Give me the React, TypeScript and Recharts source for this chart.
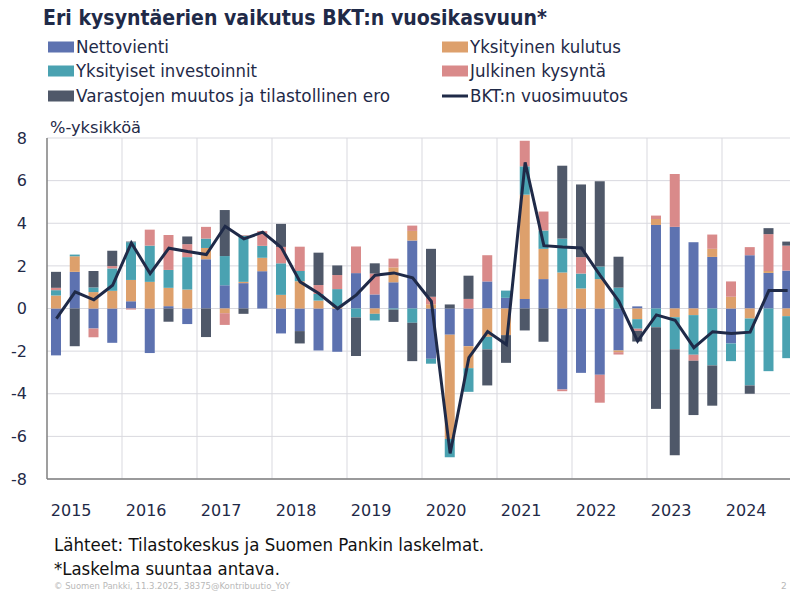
import React from "react"
import { Bar, CartesianGrid, ComposedChart, Line, XAxis, YAxis } from "recharts"

const quarters = [
  "2015Q1", "2015Q2", "2015Q3", "2015Q4", "2016Q1", "2016Q2", "2016Q3", "2016Q4",
  "2017Q1", "2017Q2", "2017Q3", "2017Q4", "2018Q1", "2018Q2", "2018Q3", "2018Q4",
  "2019Q1", "2019Q2", "2019Q3", "2019Q4", "2020Q1", "2020Q2", "2020Q3", "2020Q4",
  "2021Q1", "2021Q2", "2021Q3", "2021Q4", "2022Q1", "2022Q2", "2022Q3", "2022Q4",
  "2023Q1", "2023Q2", "2023Q3", "2023Q4", "2024Q1", "2024Q2", "2024Q3", "2024Q4",
]

const nettovienti = [
  -2.2, 1.72, -0.94, -1.61, 0.34, -2.09, 0.11, -0.73, 2.31, 1.09, 1.19, 1.75, -1.17, -1.06, -1.97, -2.03,
  1.66, 0.66, 1.23, 3.19, -2.36, -1.23, -1.77, 1.27, 0.5, 0.45, 1.38, -3.8, -3.02, -3.11, -1.97, 0.1,
  3.92, 3.83, 3.11, 2.42, -1.64, 2.5, 1.67, 1.78,
]
const kulutus = [
  0.61, 0.73, 0.77, 0.83, 1.0, 1.25, 0.86, 0.89, 0.53, -0.22, 0.06, 0.63, 0.64, 1.28, 0.37, 0.08,
  0, -0.25, 0.7, 0.45, 0.2, -4.89, -1.03, -1.33, -1.25, 4.89, 1.42, 1.69, 0.94, 1.38, -0.08, -0.5,
  0.28, -0.41, -0.31, 0.38, 0.55, -0.47, 0.09, -0.36,
]
const investoinnit = [
  0.25, 0.08, 0.22, 1.05, 1.77, 1.7, 0.84, 1.52, 0.44, 1.37, 2.17, 0.56, 1.48, 0.48, 0.31, 0.83,
  -0.42, -0.31, -0.05, -0.67, -0.23, -0.86, -1.11, -0.59, 0.34, 1.33, 0.86, 1.59, 0.7, 0.59, 0.98, -0.45,
  -0.88, -1.5, -1.86, -2.67, -0.83, -3.14, -2.94, -1.97,
]
const julkinen = [
  0.11, 0, -0.41, 0.11, -0.05, 0.75, 1.64, 0.61, 0.55, -0.55, 0.03, 0.69, 0.77, 1.14, 0.42, 0.66,
  1.25, 0.98, 0.41, 0.25, 0.35, 0, 0.45, 1.23, 0, 1.2, 0.89, -0.08, 0.77, -1.31, -0.11, -0.1,
  0.16, 2.48, -0.28, 0.67, 0.72, 0.38, 1.73, 1.17,
]
const varastot = [
  0.75, -1.77, 0.77, 0.72, 0.03, 0, -0.62, 0.36, -1.34, 2.16, -0.25, 0, 1.08, -0.58, 1.52, 0.45,
  -1.81, 0.48, -0.58, -1.8, 2.25, 0.19, 1.09, -1.69, -1.3, -1.03, -1.56, 3.42, 3.41, 4.0, 1.45, -0.5,
  -3.83, -4.97, -2.55, -1.89, 0, -0.39, 0.28, 0.19,
]
const bkt = [
  -0.47, 0.78, 0.41, 1.09, 3.08, 1.64, 2.83, 2.67, 2.53, 3.86, 3.27, 3.58, 2.86, 1.25, 0.7, 0.0,
  0.64, 1.56, 1.67, 1.44, 0.33, -6.8, -2.31, -1.08, -1.69, 6.86, 2.95, 2.88, 2.84, 1.55, 0.34, -1.53,
  -0.3, -0.55, -1.84, -1.09, -1.17, -1.11, 0.84, 0.84,
]

const yTicks = [-8, -6, -4, -2, 0, 2, 4, 6, 8]

const FONT = "'DejaVu Sans', sans-serif"
const NAVY = "#1f2a48"

const series = [
  { key: "nettovienti", name: "Nettovienti", color: "#5d72b0" },
  { key: "kulutus", name: "Yksityinen kulutus", color: "#dda06c" },
  { key: "investoinnit", name: "Yksityiset investoinnit", color: "#4aa2b1" },
  { key: "julkinen", name: "Julkinen kysyntä", color: "#d98a8a" },
  { key: "varastot", name: "Varastojen muutos ja tilastollinen ero", color: "#4f5869" },
]

const data = quarters.map((q, i) => ({
  q,
  nettovienti: nettovienti[i],
  kulutus: kulutus[i],
  investoinnit: investoinnit[i],
  julkinen: julkinen[i],
  varastot: varastot[i],
  bkt: bkt[i],
}))

// legend layout: [item, column x, row centre y, text width]
const legendItems: any[] = [
  [series[0], 48, 47, 93],
  [series[1], 442, 47, 151],
  [series[2], 48, 71, 181],
  [series[3], 442, 71, 136],
  [series[4], 48, 96, 314],
  [{ key: "bkt", name: "BKT:n vuosimuutos", color: NAVY, line: true }, 442, 96, 158],
]

function YearTick(props: any) {
  const { x, y, payload } = props
  const label = String(payload.value)
  if (!label.endsWith("Q2")) return null
  return (
    <text x={x - 4} y={y + 29} textAnchor="middle" fill={NAVY} fontSize={16} fontFamily={FONT}>
      {label.slice(0, 4)}
    </text>
  )
}

function Overlay() {
  return (
    <svg
      width={790}
      height={591}
      style={{ position: "absolute", top: 0, left: 0, pointerEvents: "none" }}
      fontFamily={FONT}
    >
      <text x={43} y={25} fontSize={21} fontWeight="bold" fill={NAVY} textLength={504} lengthAdjust="spacingAndGlyphs">
        Eri kysyntäerien vaikutus BKT:n vuosikasvuun*
      </text>
      {legendItems.map(([s, x, cy, w]) => (
        <g key={s.key}>
          {s.line ? (
            <rect x={x} y={cy - 1.5} width={26} height={3} fill={s.color} />
          ) : (
            <rect x={x} y={cy - 5.5} width={26} height={11} fill={s.color} />
          )}
          <text x={x + 28} y={cy + 6} fontSize={17} fill={NAVY} textLength={w} lengthAdjust="spacingAndGlyphs">
            {s.name}
          </text>
        </g>
      ))}
      <text x={50} y={133} fontSize={16} fill={NAVY} textLength={91} lengthAdjust="spacingAndGlyphs">
        %-yksikköä
      </text>
      <text x={54} y={551} fontSize={17} fill="#111" textLength={430} lengthAdjust="spacingAndGlyphs">
        Lähteet: Tilastokeskus ja Suomen Pankin laskelmat.
      </text>
      <text x={54} y={575} fontSize={17} fill="#111" textLength={226} lengthAdjust="spacingAndGlyphs">
        *Laskelma suuntaa antava.
      </text>
      <text x={54} y={589} fontSize={9} fill="#b8b8b8" textLength={236} lengthAdjust="spacingAndGlyphs">
        © Suomen Pankki, 11.3.2025, 38375@Kontribuutio_YoY
      </text>
      <text x={781} y={589} fontSize={9} fill="#b8b8b8">
        2
      </text>
    </svg>
  )
}

export default function App() {
  return (
    <div
      style={{
        position: "absolute",
        top: 0,
        left: 0,
        width: 790,
        height: 591,
        overflow: "hidden",
        background: "#fff",
      }}
    >
      <ComposedChart
        width={797}
        height={591}
        data={data}
        stackOffset="sign"
        barSize={10}
        margin={{ top: 138, right: 0, bottom: 72, left: 0 }}
      >
        <CartesianGrid
          stroke="#d9d9df"
          verticalCoordinatesGenerator={({ offset }: any) =>
            [1, 2, 3, 4, 5, 6, 7, 8, 9].map((i) => offset.left + (i * offset.width) / 10)
          }
        />
        <XAxis
          dataKey="q"
          height={40}
          interval={0}
          tickLine={false}
          axisLine={{ stroke: "#7f7f7f", strokeWidth: 1.5 }}
          tick={<YearTick />}
        />
        <YAxis
          domain={[-8, 8]}
          ticks={yTicks}
          width={47}
          tickLine={false}
          tickSize={0}
          tickMargin={20}
          axisLine={{ stroke: "#7f7f7f", strokeWidth: 1.5 }}
          tick={{ fill: NAVY, fontSize: 16, fontFamily: FONT }}
        />
        {series.map((s) => (
          <Bar
            key={s.key}
            dataKey={s.key}
            name={s.name}
            stackId="a"
            fill={s.color}
            isAnimationActive={false}
          />
        ))}
        <Line
          type="linear"
          dataKey="bkt"
          name="BKT:n vuosimuutos"
          stroke={NAVY}
          strokeWidth={3}
          dot={false}
          isAnimationActive={false}
        />
      </ComposedChart>
      <Overlay />
    </div>
  )
}
